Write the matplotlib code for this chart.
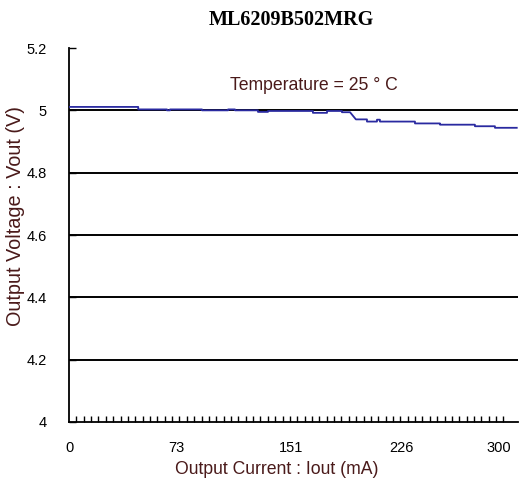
import matplotlib
matplotlib.use("Agg")
import matplotlib.pyplot as plt
from matplotlib.ticker import MultipleLocator

title = "ML6209B502MRG"
note = "Temperature = 25 ° C"
x_label = "Output Current : Iout (mA)"
y_label = "Output Voltage : Vout (V)"

# Output current (mA) and output voltage (V)
current = [0, 47, 47, 66.5, 66.5, 68.6, 68.6, 90.3, 90.3, 108, 108, 112.7, 112.7,
           128.3, 128.3, 135.1, 135.1, 165.6, 165.6, 175.2, 175.2, 185.3, 185.3,
           190.8, 194.8, 202.3, 202.3, 209.1, 209.1, 211.1, 211.1, 234.9, 234.9,
           251.9, 251.9, 275.6, 275.6, 289.2, 289.2, 304]
voltage = [5.011, 5.011, 5.003, 5.003, 5.000, 5.000, 5.003, 5.003, 5.000, 5.000,
           5.003, 5.003, 5.000, 5.000, 4.995, 4.995, 4.998, 4.998, 4.992, 4.992,
           4.998, 4.998, 4.994, 4.994, 4.971, 4.971, 4.964, 4.964, 4.970, 4.970,
           4.964, 4.964, 4.958, 4.958, 4.954, 4.954, 4.949, 4.949, 4.944, 4.944]

x_ticks = [0, 73, 151, 226, 300]
x_tick_labels = ["0", "73", "151", "226", "300"]
y_ticks = [4.0, 4.2, 4.4, 4.6, 4.8, 5.0, 5.2]
y_tick_labels = ["4", "4.2", "4.4", "4.6", "4.8", "5", "5.2"]

label_color = "#4a1a1a"
line_color = "#2a2aa0"
sans = "Liberation Sans"

fig = plt.figure(figsize=(5.2, 4.87), dpi=100)
ax = fig.add_axes([0.1327, 0.1335, 0.8633, 0.7679])

for y in y_ticks[1:-1]:
    ax.axhline(y, color="black", lw=1.4, zorder=1)

ax.plot(current, voltage, color=line_color, lw=1.3, zorder=3)

ax.set_xlim(0, 304.8)
ax.set_ylim(4.0, 5.2)
ax.set_xticks(x_ticks)
ax.set_xticklabels(x_tick_labels, fontsize=10.5, family=sans)
ax.get_xticklabels()[-1].set_horizontalalignment("right")
ax.xaxis.set_minor_locator(MultipleLocator(5))
ax.tick_params(axis="x", which="major", length=0, pad=14)
ax.tick_params(axis="x", which="minor", direction="in", length=4, width=1)
ax.set_yticks(y_ticks)
ax.set_yticklabels(y_tick_labels, fontsize=10.5, family=sans)
ax.tick_params(axis="y", which="major", direction="in", length=5, width=1, pad=16)

for s in ["top", "right"]:
    ax.spines[s].set_visible(False)
for s in ["left", "bottom"]:
    ax.spines[s].set_linewidth(1.3)

ax.set_xlabel(x_label, fontsize=12.7, color=label_color, family=sans)
ax.xaxis.set_label_coords(0.463, -0.104)
ax.set_ylabel(y_label, fontsize=14.3, color=label_color, family=sans)
ax.yaxis.set_label_coords(-0.098, 0.551)

ax.text(0.546, 0.901, note, transform=ax.transAxes, ha="center", va="center",
        fontsize=12.7, color=label_color, family=sans)

fig.text(0.56, 0.958, title, ha="center", va="center", fontsize=14.5,
         fontweight="bold", family=["Liberation Serif", "DejaVu Serif"])

fig.savefig("out.png", dpi=100)
